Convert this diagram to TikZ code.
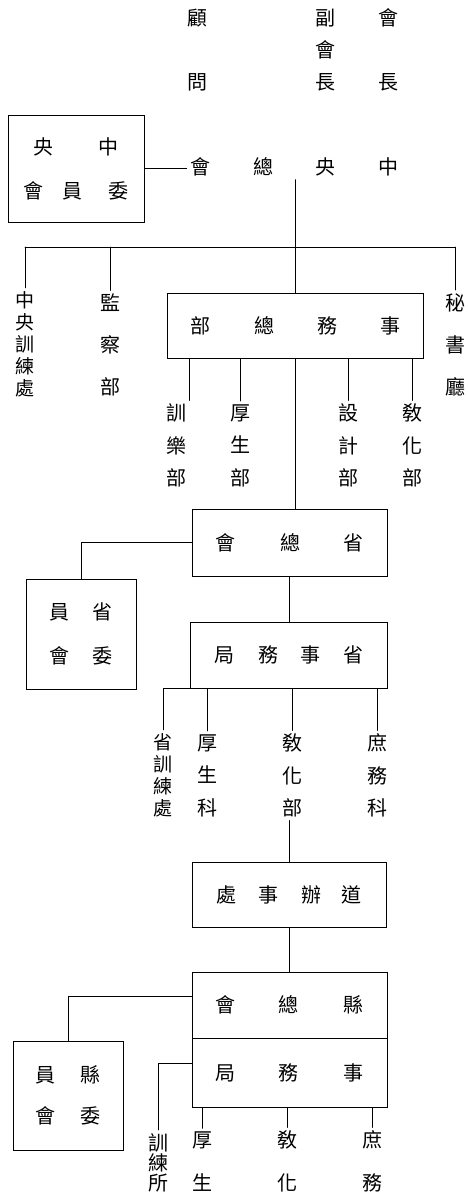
\documentclass[tikz,border=0pt]{standalone}
\usepackage{fontspec}
\newfontfamily\cjk{Noto Sans CJK TC}
\newcommand{\cgap}[1]{\hspace{#1pt}}
\begin{document}
\begin{tikzpicture}[x=1pt, y=-1pt, line width=.6pt, line cap=round,
	every node/.style={font=\cjk\fontsize{20}{20}\selectfont, inner sep=3pt},
	orgbox/.style={draw, rectangle, inner sep=0pt, align=center},
	vlab/.style={align=center, font=\cjk\fontsize{20}{#1}\selectfont},
	tight/.style={align=center, font=\cjk\fontsize{19}{22}\selectfont}]
	\useasboundingbox (0,0) rectangle (468,1202);
	% top
	\node[vlab=64] (gw) at (197,50) {顧\\問};
	\node[vlab=32] (fhz) at (325,50) {副\\會\\長};
	\node[vlab=64] (hz) at (388,50) {會\\長};
	% central
	\node (zyh) at (294,167) {會\cgap{43}總\cgap{42}央\cgap{43}中};
	\node[orgbox, minimum width=136, minimum height=107] (zyw) at (76,168.5) {央\cgap{45}中\\[24pt]會\cgap{19}員\cgap{26}委};
	\draw (zyw.east) -- (zyw.east -| zyh.west);
	\node[tight] (zxl) at (25,344) {中\\央\\訓\\練\\處};
	\node[vlab=42] (jc) at (110,345) {監\\察\\部};
	\node[vlab=42] (ms) at (455,344.5) {秘\\書\\廳};
	\node[orgbox, minimum width=256, minimum height=65] (zwzb) at (295,325.5) {部\cgap{44}總\cgap{43}務\cgap{43}事};
	\coordinate (bar) at (0,247);
	\draw (zwzb.north |- zyh.south) -- (zwzb.north);
	\draw (zxl.north |- bar) -- (ms.north |- bar);
	\foreach \n in {zxl, jc, ms}
	\draw (\n.north |- bar) -- (\n.north);
	% departments
	\node[vlab=32.5] (xl) at (176,445.5) {訓\\樂\\部};
	\node[vlab=32.5] (hs) at (240,445.5) {厚\\生\\部};
	\node[vlab=32.5] (sj) at (348,445.5) {設\\計\\部};
	\node[vlab=32.5] (jh) at (412,445.5) {敎\\化\\部};
	\draw (xl.north east |- zwzb.south) -- (xl.north east);
	\foreach \n in {hs, sj, jh}
	\draw (\n.north |- zwzb.south) -- (\n.north);
	% province
	\node[orgbox, minimum width=195, minimum height=67] (szh) at (289.5,542.5) {會\cgap{45}總\cgap{43}省};
	\node[orgbox, minimum width=110, minimum height=110] (sw) at (81,634) {員\cgap{23}省\\[24pt]會\cgap{23}委};
	\node[orgbox, minimum width=197, minimum height=66] (sswj) at (288.5,655) {局\cgap{24}務\cgap{22}事\cgap{23}省};
	\draw (zwzb.south) -- (zwzb.south |- szh.north);
	\draw (szh.west) -| (sw.north);
	\draw (szh.south) -- (szh.south |- sswj.north);
	\node[tight] (sxl) at (163,775) {省\\訓\\練\\處};
	\node[vlab=32.5] (hsk) at (207,775.5) {厚\\生\\科};
	\node[vlab=32.5] (jhb) at (292,775.5) {敎\\化\\部};
	\node[vlab=32.5] (swk) at (377,775.5) {庶\\務\\科};
	\draw (sswj.south west) -| (sxl.north);
	\foreach \n in {hsk, jhb, swk}
	\draw (\n.north |- sswj.south) -- (\n.north);
	% circuit
	\node[orgbox, minimum width=194, minimum height=65] (dbsc) at (289,894.5) {處\cgap{22}事\cgap{23}辦\cgap{20}道};
	\draw (dbsc.north |- jhb.south) -- (dbsc.north);
	% county
	\node[orgbox, minimum width=195, minimum height=66] (xzh) at (289.5,1005) {會\cgap{43}總\cgap{45}縣};
	\node[orgbox, minimum width=195, minimum height=69, anchor=north] (xswj) at (xzh.south) {局\cgap{43}務\cgap{45}事};
	\node[orgbox, minimum width=110, minimum height=109] (xw) at (68,1095.5) {員\cgap{25}縣\\[21pt]會\cgap{25}委};
	\draw (dbsc.south) -- (dbsc.south |- xzh.north);
	\coordinate (xzhl) at ([yshift=9pt]xzh.west);
	\draw (xzhl) -| (xw.north);
	\node[vlab=20] (xlx) at (158,1162.5) {訓\\練\\所};
	\coordinate (xswjl) at ([yshift=10pt]xswj.west);
	\draw (xswjl) -| (xlx.north);
	\node[vlab=43] (hs2) at (202,1161.5) {厚\\生};
	\node[vlab=43] (jh2) at (287,1161.5) {敎\\化};
	\node[vlab=43] (sw2) at (372,1161.5) {庶\\務};
	\foreach \n in {hs2, jh2, sw2}
	\draw (\n.north |- xswj.south) -- (\n.north);
\end{tikzpicture}
\end{document}
